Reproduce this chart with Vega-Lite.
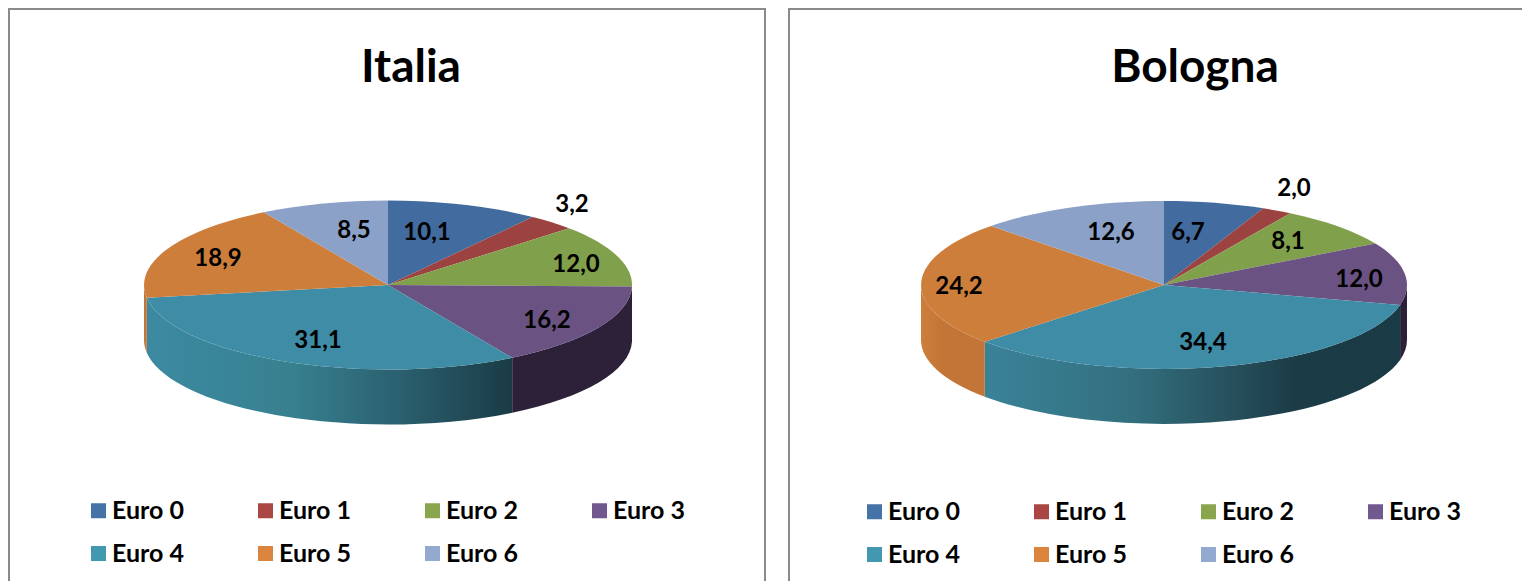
{
"$schema":"https://vega.github.io/schema/vega-lite/v6.json",
"background":"white",
"padding":{"left":8,"top":8,"right":0,"bottom":0},
"spacing":22,
"resolve":{"scale":{"color":"independent"},"legend":{"color":"independent"}},
"datasets":{
"italia":[
{"series":"Euro 0","value":10.1,"label":"10,1"},
{"series":"Euro 1","value":3.2,"label":"3,2"},
{"series":"Euro 2","value":12.0,"label":"12,0"},
{"series":"Euro 3","value":16.2,"label":"16,2"},
{"series":"Euro 4","value":31.1,"label":"31,1"},
{"series":"Euro 5","value":18.9,"label":"18,9"},
{"series":"Euro 6","value":8.5,"label":"8,5"}],
"bologna":[
{"series":"Euro 0","value":6.7,"label":"6,7"},
{"series":"Euro 1","value":2.0,"label":"2,0"},
{"series":"Euro 2","value":8.1,"label":"8,1"},
{"series":"Euro 3","value":12.0,"label":"12,0"},
{"series":"Euro 4","value":34.4,"label":"34,4"},
{"series":"Euro 5","value":24.2,"label":"24,2"},
{"series":"Euro 6","value":12.6,"label":"12,6"}]
},
"config":{
"font":"Lato",
"title":{"font":"Lato","fontSize":46,"fontWeight":"bold","color":"#000000","anchor":"middle","offset":-83},
"legend":{"labelFont":"Lato","labelFontSize":25,"labelFontWeight":"bold","labelColor":"#000000","symbolSize":225,"symbolStrokeWidth":0,"labelOffset":1,"columnPadding":69,"rowPadding":17,"padding":0},
"text":{"font":"Lato","fontSize":24,"fontWeight":"bold","color":"#000000"}
},
"hconcat":[
{
"title":{"text":"Italia","dx":24},
"view":{"stroke":"#8a8a8a","strokeWidth":2},
"width":756,"height":574,
"data":{"name":"italia"},
"layer":[
{"mark":{"type":"point","filled":true,"size":1,"opacity":1},
"encoding":{"color":{"field":"series","type":"nominal","scale":{"domain":["Euro 0","Euro 1","Euro 2","Euro 3","Euro 4","Euro 5","Euro 6"],"range":["#4572a7","#aa4643","#89a54e","#71588f","#4198af","#db843d","#93a9cf"]},"legend":{"title":null,"columns":4,"direction":"horizontal","orient":"none","legendX":77,"legendY":489,"symbolType":"square"}}}},
{"transform":[{"filter":"datum.series==='Euro 3'"}],"mark":{"type":"point","filled":true,"opacity":1,"size":4,"xOffset":1,"yOffset":-11,"fill":"#2c2138","shape":"M244 1.6A244 84.5 0 0 1 124.2 72.7L124.2 127.7A244 84.5 0 0 0 244 56.6Z"}},
{"transform":[{"filter":"datum.series==='Euro 4'"}],"mark":{"type":"point","filled":true,"opacity":1,"size":4,"xOffset":1,"yOffset":-11,"shape":"M124.2 72.7A244 84.5 0 0 1 -241.2 12.7L-241.2 67.7A244 84.5 0 0 0 124.2 127.7Z","fill":{"gradient":"linear","x1":0,"y1":0,"x2":1,"y2":0,"stops":[{"offset":0,"color":"#3c8aa2"},{"offset":0.4,"color":"#37808f"},{"offset":0.7,"color":"#2a5f6e"},{"offset":1,"color":"#1a3b45"}]}}},
{"transform":[{"filter":"datum.series==='Euro 5'"}],"mark":{"type":"point","filled":true,"opacity":1,"size":4,"xOffset":1,"yOffset":-11,"fill":"#c4763a","shape":"M-241.2 12.7A244 84.5 0 0 1 -244 0L-244 55A244 84.5 0 0 0 -241.2 67.7Z"}},
{"transform":[{"filter":"datum.series==='Euro 0'"}],"mark":{"type":"point","filled":true,"opacity":1,"size":4,"xOffset":1,"yOffset":-11,"fill":"#426b9f","shape":"M0 0L0 -84.5A244 84.5 0 0 1 144.7 -68Z"}},
{"transform":[{"filter":"datum.series==='Euro 1'"}],"mark":{"type":"point","filled":true,"opacity":1,"size":4,"xOffset":1,"yOffset":-11,"fill":"#9c4240","shape":"M0 0L144.7 -68A244 84.5 0 0 1 181 -56.7Z"}},
{"transform":[{"filter":"datum.series==='Euro 2'"}],"mark":{"type":"point","filled":true,"opacity":1,"size":4,"xOffset":1,"yOffset":-11,"fill":"#81a04b","shape":"M0 0L181 -56.7A244 84.5 0 0 1 244 1.6Z"}},
{"transform":[{"filter":"datum.series==='Euro 3'"}],"mark":{"type":"point","filled":true,"opacity":1,"size":4,"xOffset":1,"yOffset":-11,"fill":"#6a5283","shape":"M0 0L244 1.6A244 84.5 0 0 1 124.2 72.7Z"}},
{"transform":[{"filter":"datum.series==='Euro 4'"}],"mark":{"type":"point","filled":true,"opacity":1,"size":4,"xOffset":1,"yOffset":-11,"fill":"#3e8ca5","shape":"M0 0L124.2 72.7A244 84.5 0 0 1 -241.2 12.7Z"}},
{"transform":[{"filter":"datum.series==='Euro 5'"}],"mark":{"type":"point","filled":true,"opacity":1,"size":4,"xOffset":1,"yOffset":-11,"fill":"#ce7e3b","shape":"M0 0L-241.2 12.7A244 84.5 0 0 1 -124.2 -72.7Z"}},
{"transform":[{"filter":"datum.series==='Euro 6'"}],"mark":{"type":"point","filled":true,"opacity":1,"size":4,"xOffset":1,"yOffset":-11,"fill":"#8ca1c7","shape":"M0 0L-124.2 -72.7A244 84.5 0 0 1 0 -84.5Z"}},
{"transform":[{"filter":"datum.series==='Euro 0'"}],"mark":{"type":"text","dx":40,"dy":-63},"encoding":{"text":{"field":"label"}}},
{"transform":[{"filter":"datum.series==='Euro 1'"}],"mark":{"type":"text","dx":185,"dy":-91},"encoding":{"text":{"field":"label"}}},
{"transform":[{"filter":"datum.series==='Euro 2'"}],"mark":{"type":"text","dx":189,"dy":-31},"encoding":{"text":{"field":"label"}}},
{"transform":[{"filter":"datum.series==='Euro 3'"}],"mark":{"type":"text","dx":160,"dy":25},"encoding":{"text":{"field":"label"}}},
{"transform":[{"filter":"datum.series==='Euro 4'"}],"mark":{"type":"text","dx":-69,"dy":45},"encoding":{"text":{"field":"label"}}},
{"transform":[{"filter":"datum.series==='Euro 5'"}],"mark":{"type":"text","dx":-169,"dy":-37},"encoding":{"text":{"field":"label"}}},
{"transform":[{"filter":"datum.series==='Euro 6'"}],"mark":{"type":"text","dx":-33,"dy":-65},"encoding":{"text":{"field":"label"}}}
]
},
{
"title":{"text":"Bologna","dx":31},
"view":{"stroke":"#8a8a8a","strokeWidth":2},
"width":750,"height":574,
"data":{"name":"bologna"},
"layer":[
{"mark":{"type":"point","filled":true,"size":1,"opacity":1},
"encoding":{"color":{"field":"series","type":"nominal","scale":{"domain":["Euro 0","Euro 1","Euro 2","Euro 3","Euro 4","Euro 5","Euro 6"],"range":["#4572a7","#aa4643","#89a54e","#71588f","#4198af","#db843d","#93a9cf"]},"legend":{"title":null,"columns":4,"direction":"horizontal","orient":"none","legendX":73,"legendY":490,"symbolType":"square"}}}},
{"transform":[{"filter":"datum.series==='Euro 3'"}],"mark":{"type":"point","filled":true,"opacity":1,"size":4,"yOffset":-11,"fill":"#2c2138","shape":"M243 0A243 84 0 0 1 236.1 19.9L236.1 74.9A243 84 0 0 0 243 55Z"}},
{"transform":[{"filter":"datum.series==='Euro 4'"}],"mark":{"type":"point","filled":true,"opacity":1,"size":4,"yOffset":-11,"shape":"M236.1 19.9A243 84 0 0 1 -179.2 56.7L-179.2 111.7A243 84 0 0 0 236.1 74.9Z","fill":{"gradient":"linear","x1":0,"y1":0,"x2":1,"y2":0,"stops":[{"offset":0,"color":"#3a8298"},{"offset":0.35,"color":"#33707f"},{"offset":0.6,"color":"#264f5c"},{"offset":0.75,"color":"#1b3c47"},{"offset":1,"color":"#1a3a45"}]}}},
{"transform":[{"filter":"datum.series==='Euro 5'"}],"mark":{"type":"point","filled":true,"opacity":1,"size":4,"yOffset":-11,"shape":"M-179.2 56.7A243 84 0 0 1 -243 0L-243 55A243 84 0 0 0 -179.2 111.7Z","fill":{"gradient":"linear","x1":0,"y1":0,"x2":1,"y2":0,"stops":[{"offset":0,"color":"#ce7e3b"},{"offset":0.35,"color":"#c27536"},{"offset":1,"color":"#c27536"}]}}},
{"transform":[{"filter":"datum.series==='Euro 0'"}],"mark":{"type":"point","filled":true,"opacity":1,"size":4,"yOffset":-11,"fill":"#426b9f","shape":"M0 0L0 -84A243 84 0 0 1 99.3 -76.7Z"}},
{"transform":[{"filter":"datum.series==='Euro 1'"}],"mark":{"type":"point","filled":true,"opacity":1,"size":4,"yOffset":-11,"fill":"#9c4240","shape":"M0 0L99.3 -76.7A243 84 0 0 1 126.3 -71.8Z"}},
{"transform":[{"filter":"datum.series==='Euro 2'"}],"mark":{"type":"point","filled":true,"opacity":1,"size":4,"yOffset":-11,"fill":"#81a04b","shape":"M0 0L126.3 -71.8A243 84 0 0 1 211.4 -41.4Z"}},
{"transform":[{"filter":"datum.series==='Euro 3'"}],"mark":{"type":"point","filled":true,"opacity":1,"size":4,"yOffset":-11,"fill":"#6a5283","shape":"M0 0L211.4 -41.4A243 84 0 0 1 236.1 19.9Z"}},
{"transform":[{"filter":"datum.series==='Euro 4'"}],"mark":{"type":"point","filled":true,"opacity":1,"size":4,"yOffset":-11,"fill":"#3e8ca5","shape":"M0 0L236.1 19.9A243 84 0 0 1 -179.2 56.7Z"}},
{"transform":[{"filter":"datum.series==='Euro 5'"}],"mark":{"type":"point","filled":true,"opacity":1,"size":4,"yOffset":-11,"fill":"#ce7e3b","shape":"M0 0L-179.2 56.7A243 84 0 0 1 -172.9 -59Z"}},
{"transform":[{"filter":"datum.series==='Euro 6'"}],"mark":{"type":"point","filled":true,"opacity":1,"size":4,"yOffset":-11,"fill":"#8ca1c7","shape":"M0 0L-172.9 -59A243 84 0 0 1 0 -84Z"}},
{"transform":[{"filter":"datum.series==='Euro 0'"}],"mark":{"type":"text","dx":24,"dy":-63},"encoding":{"text":{"field":"label"}}},
{"transform":[{"filter":"datum.series==='Euro 1'"}],"mark":{"type":"text","dx":130,"dy":-107},"encoding":{"text":{"field":"label"}}},
{"transform":[{"filter":"datum.series==='Euro 2'"}],"mark":{"type":"text","dx":124,"dy":-54},"encoding":{"text":{"field":"label"}}},
{"transform":[{"filter":"datum.series==='Euro 3'"}],"mark":{"type":"text","dx":195,"dy":-16},"encoding":{"text":{"field":"label"}}},
{"transform":[{"filter":"datum.series==='Euro 4'"}],"mark":{"type":"text","dx":39,"dy":47},"encoding":{"text":{"field":"label"}}},
{"transform":[{"filter":"datum.series==='Euro 5'"}],"mark":{"type":"text","dx":-205,"dy":-9},"encoding":{"text":{"field":"label"}}},
{"transform":[{"filter":"datum.series==='Euro 6'"}],"mark":{"type":"text","dx":-53,"dy":-63},"encoding":{"text":{"field":"label"}}}
]
}
]
}
